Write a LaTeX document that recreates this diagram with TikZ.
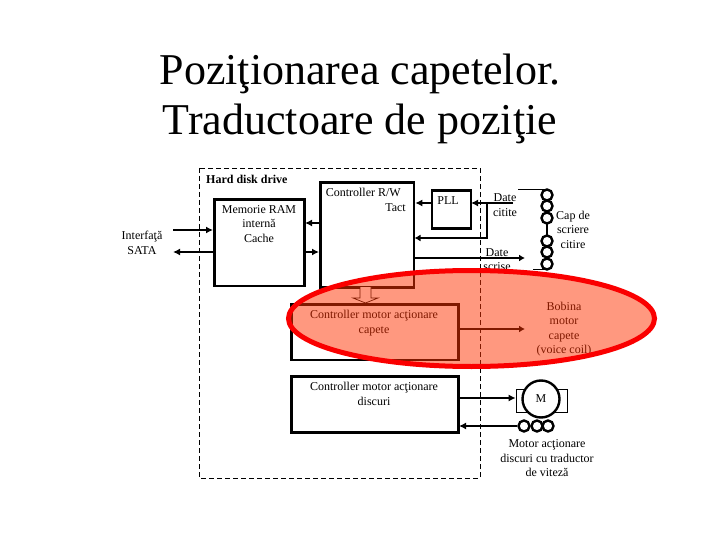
\documentclass[tikz,border=0pt]{standalone}
\usepackage{fontspec}
\setmainfont{Liberation Serif}
\usepackage{tikz}
\usetikzlibrary{arrows.meta,positioning,calc}
\definecolor{ringred}{RGB}{250,0,0}
\definecolor{ringfill}{RGB}{255,50,0}

\begin{document}
\begin{tikzpicture}[
  x=1pt, y=-1pt, font=\fontsize{12}{14.5}\selectfont,
  box/.style={draw, line width=2.8pt, inner sep=0pt, anchor=north west},
  lbl/.style={align=center, inner sep=0pt},
  coil/.style={circle, draw, line width=2.4pt, fill=white, inner sep=0pt, minimum size=11pt},
  arr/.style={-{Latex[length=7pt,width=7pt]}, line width=1.5pt},
  thinarr/.style={-{Latex[length=6pt,width=7pt]}, line width=1.2pt}
]
\useasboundingbox (0,0) rectangle (720,540);
\fill[white] (0,0) rectangle (720,540);
\node[font=\fontsize{44}{50}\selectfont, align=center, inner sep=0pt] (title) at (360,99) {Poziţionarea capetelor.\\Traductoare de poziţie};
\draw[dash pattern=on 5pt off 3pt, line width=0.9pt] (199,168) rectangle (480,478);
\node[anchor=west, inner sep=0pt, font=\fontsize{12}{14}\selectfont\bfseries] (hdd) at (206,179) {Hard disk drive};
% blocks
\node[box, minimum width=90pt, minimum height=86.5pt] (ram) at (213,198) {};
\node[box, minimum width=93.5pt, minimum height=105pt] (rw) at (319,181) {};
\node[box, minimum width=39pt, minimum height=38pt] (pll) at (430.5,189.5) {};
\node[box, minimum width=167pt, minimum height=55.5pt] (cap) at (290,303) {};
\node[box, minimum width=167pt, minimum height=56pt] (dsc) at (290,375) {};
% texts
\node[lbl] (sata) at (142,243) {Interfaţă\\SATA};
\node[lbl] (ramt) at (259,224) {Memorie RAM\\internă\\Cache};
\node[lbl, align=right, anchor=north east] (rwt) at (406,188) {Controller R/W\hspace*{5pt}\\Tact};
\node[lbl] (pllt) at (448,200.5) {PLL};
\node[lbl] (citt) at (505,205) {Date\\citite};
\node[lbl] (scrt) at (497,259.5) {Date\\scrise};
\node[lbl] (capw) at (573,229.5) {Cap de\\scriere\\citire};
\node[lbl] (capt) at (374,323) {Controller motor acţionare\\capete};
\node[lbl] (bob) at (564,329) {Bobina\\motor\\capete\\(voice coil)};
\node[lbl] (dsct) at (374,394) {Controller motor acţionare\\discuri};
\node[lbl] (mott) at (547,458.5) {Motor acţionare\\discuri cu traductor\\de viteză};
% head coils
\coordinate (topin) at (518,189);
\coordinate (botin) at (533,269);
\draw[line width=0.8pt] (topin) -- (547,189);
\draw[line width=0.8pt] (botin) -- (547,269);
\draw[line width=2pt] (547,195) -- (547,264);
\foreach \n/\y in {a/195,b/206,c/218,d/241,e/252,f/264}
  \node[coil] (h\n) at (547,\y) {};
% motor
\node[draw, fill=white, line width=0.7pt, minimum width=51pt, minimum height=23pt, inner sep=0pt] (stat) at (541.5,400.5) {};
\node[circle, draw, fill=white, line width=2.4pt, minimum size=37pt, inner sep=0pt] (mot) at (541,399) {M};
\foreach \n/\x in {a/524,b/537,c/548}
  \node[coil] (t\n) at (\x,426) {};
% connectors
\coordinate (satain) at (173,230);
\coordinate (sataout) at (173,252);
\draw[arr] (satain) -- (213,230);
\draw[arr] (213,252) -- (sataout);
\draw[arr] (319,223) -- (305,223);
\draw[arr] (305,252) -- (319,252);
\draw[arr] (pll.west |- 0,203) -- (rw.east |- 0,203);
\coordinate (citin) at (513,203);
\coordinate (scrout) at (525,258);
\draw[arr] (citin) -- (471,203);
\draw[thinarr] (487,203) |- (414.5,238);
\draw[thinarr] (414.5,258) -- (scrout);
\draw[line width=0.7pt, fill=white] (360,287) -- (360,298) -- (353,298) -- (365.5,303) -- (378,298) -- (371,298) -- (371,287);
\coordinate (bobin) at (525,329);
\draw[thinarr] (459,329) -- (bobin);
\draw[arr] (459,398) -- (stat.west |- 0,398);
\draw[arr] (ta) -- (459,426);
% highlight
\draw[line width=5pt, draw=ringred, fill=ringfill, fill opacity=0.5] (471.5,318.5) ellipse [x radius=183, y radius=48];
\end{tikzpicture}
\end{document}
